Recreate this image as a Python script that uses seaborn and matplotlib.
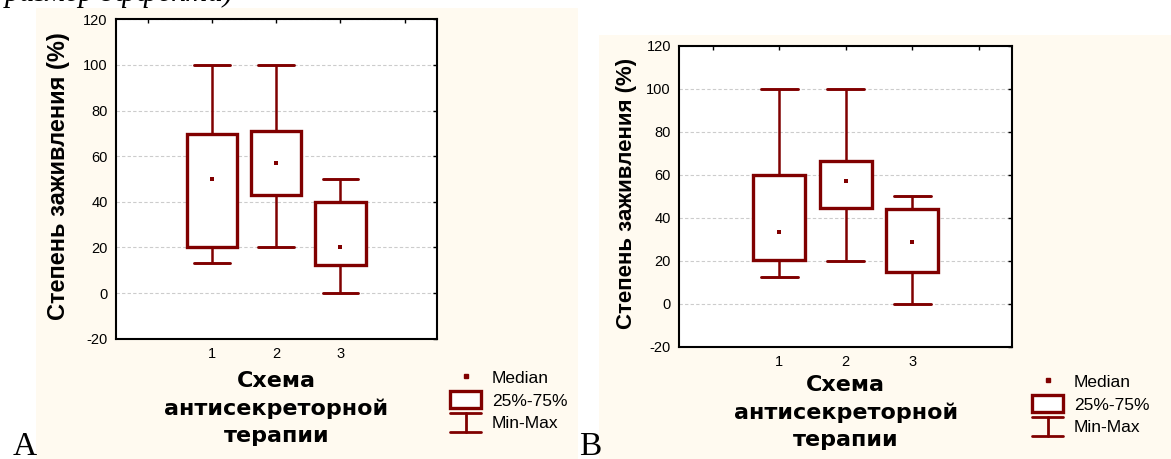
import pandas as pd
import matplotlib
matplotlib.use('Agg')
import matplotlib.pyplot as plt
import seaborn as sns
from matplotlib.lines import Line2D
from matplotlib.patches import Rectangle
from matplotlib.legend_handler import HandlerBase

# Схемы антисекреторной терапии
schemes = [1, 2, 3]

# Панель A: минимум, 25%, медиана, 75%, максимум
a_min = [13.4, 20, 0]
a_q1 = [20.3, 43.2, 12.1]
a_med = [50, 57, 20]
a_q3 = [69.7, 71.1, 40]
a_max = [100, 100, 50]

# Панель B
b_min = [12.7, 20, 0]
b_q1 = [20.3, 44.5, 14.8]
b_med = [33.4, 57.2, 28.6]
b_q3 = [59.7, 66.5, 44.1]
b_max = [100, 100, 50]

x_ticks = [0, 1, 2, 3, 4]
x_tick_labels = ['', '1', '2', '3', '']
y_ticks = [-20, 0, 20, 40, 60, 80, 100, 120]
legend_labels = ['Median', '25%-75%', 'Min-Max']

dark = '#800000'
beige = '#fffaf0'

sns.set_style('white')
plt.rcParams['font.family'] = ['Liberation Sans', 'DejaVu Sans']
plt.rcParams['axes.unicode_minus'] = False
for key in ['text.color', 'axes.labelcolor', 'xtick.color', 'ytick.color']:
    plt.rcParams[key] = 'black'


class MinMaxHandler(HandlerBase):
    # значок "Min-Max": верхняя черта, стойка, нижняя черта
    def create_artists(self, legend, orig_handle, xdescent, ydescent,
                       width, height, fontsize, trans):
        x0, x1 = -xdescent, -xdescent + width
        xm = (x0 + x1) / 2
        y0, y1 = -ydescent - 1, -ydescent + height + 1
        parts = [Line2D([x0, x1], [y1, y1]), Line2D([xm, xm], [y0, y1]),
                 Line2D([x0, x1], [y0, y0])]
        for p in parts:
            p.set_color(dark)
            p.set_linewidth(2)
            p.set_transform(trans)
        return parts


def make_df(mins, q1s, meds, q3s, maxs):
    rows = []
    for s, vals in zip(schemes, zip(mins, q1s, meds, q3s, maxs)):
        for v in vals:
            rows.append({'scheme': s, 'value': v})
    return pd.DataFrame(rows)


def draw_panel(ax, df, meds, ylab_x, xlab_y, ylab_size, leg_anchor):
    sns.boxplot(data=df, x='scheme', y='value', native_scale=True, width=0.78,
                whis=(0, 100), color='white', linecolor=dark, linewidth=2.4,
                showfliers=False, medianprops={'visible': False},
                whiskerprops={'linewidth': 1.8}, capprops={'linewidth': 2.1},
                capwidths=0.56, ax=ax)
    sns.scatterplot(x=schemes, y=meds, marker='s', s=10, color=dark,
                    linewidth=0, ax=ax, zorder=5, legend=False)

    ax.set_xlim(-0.5, 4.5)
    ax.set_ylim(-20, 120)
    ax.set_xticks(x_ticks)
    ax.set_xticklabels(x_tick_labels)
    ax.set_yticks(y_ticks)
    ax.tick_params(direction='in', top=True, right=True, length=3, width=1,
                   labelsize=10.5, pad=6)
    ax.yaxis.grid(True, color='#cccccc', linestyle=(0, (3, 2)), linewidth=0.8)
    ax.set_axisbelow(True)
    for sp in ax.spines.values():
        sp.set_color('black')
        sp.set_linewidth(1.5)

    ax.set_ylabel('Степень заживления (%)', fontsize=ylab_size, fontweight='bold')
    ax.yaxis.set_label_coords(ylab_x, 0.51)
    ax.set_xlabel('Схема\nантисекреторной\nтерапии', fontsize=16,
                  family='DejaVu Sans', fontweight='bold', linespacing=1.45,
                  va='top')
    ax.xaxis.set_label_coords(0.5, xlab_y)

    handles = [Line2D([], [], marker='s', ms=3, color=dark, ls='none'),
               Rectangle((0, 0), 1, 1, facecolor='white', edgecolor=dark, linewidth=2.4),
               object()]
    fig.legend(handles, legend_labels, loc='upper left', bbox_to_anchor=leg_anchor,
               bbox_transform=fig.transFigure, frameon=False, fontsize=12.5,
               handlelength=1.8, handleheight=1.1, handletextpad=0.6,
               labelspacing=0.3, borderpad=0, borderaxespad=0,
               handler_map={object: MinMaxHandler()})


W, H = 1171, 459
fig = plt.figure(figsize=(W / 100, H / 100), dpi=100)
fig.patch.set_facecolor('white')

# бежевые подложки панелей
fig.add_artist(Rectangle((36 / W, 0), (577.5 - 36) / W, 451 / H,
                         transform=fig.transFigure, facecolor=beige,
                         edgecolor='none', zorder=0))
fig.add_artist(Rectangle((599 / W, 0), (W - 599) / W, 424 / H,
                         transform=fig.transFigure, facecolor=beige,
                         edgecolor='none', zorder=0))

ax_a = fig.add_axes([116 / W, 1 - 338.7 / H, (436.7 - 116) / W, (338.7 - 19.3) / H])
ax_b = fig.add_axes([679.3 / W, 1 - 347 / H, (1012.3 - 679.3) / W, (347 - 45.7) / H])
ax_a.set_facecolor('white')
ax_b.set_facecolor('white')

draw_panel(ax_a, make_df(a_min, a_q1, a_med, a_q3, a_max), a_med,
           -0.143, -0.100, 17, (450 / W, 1 - 369 / H))
draw_panel(ax_b, make_df(b_min, b_q1, b_med, b_q3, b_max), b_med,
           -0.127, -0.093, 16, (1032 / W, 1 - 373 / H))

# обрезанная строка текста сверху и подписи панелей
fig.text(5 / W, 1 - 1 / H, 'размер эффекта)', family='Liberation Serif',
         style='italic', fontsize=22, va='baseline', ha='left')
fig.text(13 / W, 4 / H, 'A', family='Liberation Serif', fontsize=24,
         va='baseline', ha='left')
fig.text(579 / W, 4 / H, 'B', family='Liberation Serif', fontsize=24,
         va='baseline', ha='left')

fig.savefig('out.png', dpi=100, facecolor='white')
